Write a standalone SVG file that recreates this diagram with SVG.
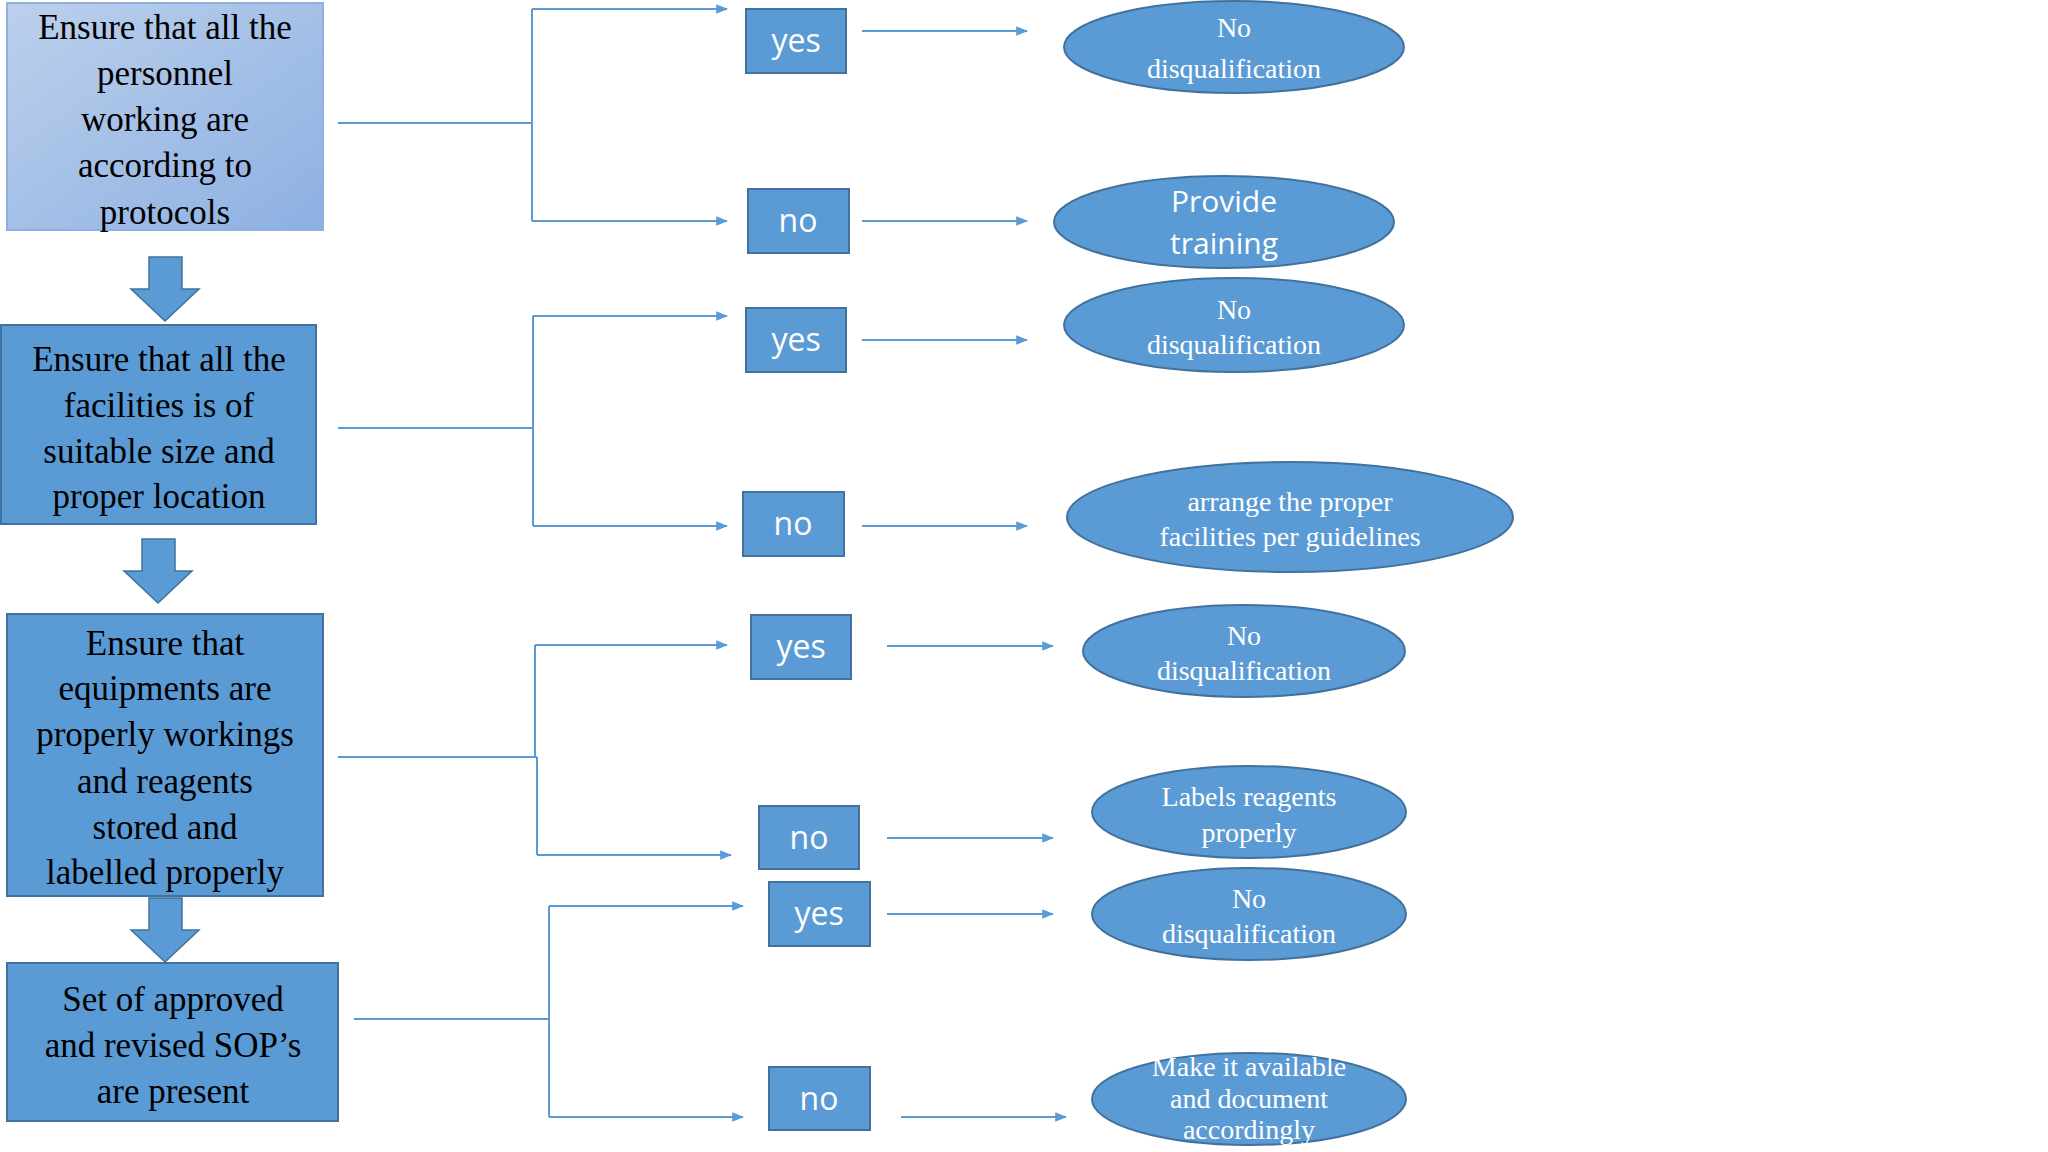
<svg xmlns="http://www.w3.org/2000/svg" width="2048" height="1152" viewBox="0 0 2048 1152">
<defs>
<linearGradient id="g1" x1="0" y1="0" x2="1" y2="1"><stop offset="0" stop-color="#bcd0ec"/><stop offset="1" stop-color="#8db0e2"/></linearGradient>
<marker id="ah" viewBox="0 0 10 10" refX="9" refY="5" markerWidth="6" markerHeight="6" orient="auto"><path d="M0,1 L10,5 L0,9 z" fill="#5b9bd5"/></marker>
<style>
.box{fill:#5b9bd5;stroke:#41719c;stroke-width:2}
.bt{font-family:"Liberation Serif",serif;font-size:35px;fill:#000;text-anchor:middle}
.yn{fill:#5b9bd5;stroke:#41719c;stroke-width:2}
.ynt{font-family:"Open Sans","Noto Sans",sans-serif;font-size:32px;fill:#fff;text-anchor:middle}
.el{fill:#5b9bd5;stroke:#41719c;stroke-width:2}
.et{font-family:"Liberation Serif",serif;font-size:28px;fill:#fff;text-anchor:middle}
.ln{fill:none;stroke:#5b9bd5;stroke-width:2}
.ar{stroke:#5b9bd5;stroke-width:2;marker-end:url(#ah)}
.down{fill:#5b9bd5;stroke:#41719c;stroke-width:1.5}
</style>
</defs>
<rect width="2048" height="1152" fill="#fff"/>
<g id="n1"><rect x="7" y="3" width="316" height="227" fill="url(#g1)" stroke="#8fb0e0" stroke-width="2"/>
<text class="bt" x="165" y="39">Ensure that all the</text><text class="bt" x="165" y="85">personnel</text><text class="bt" x="165" y="131">working are</text><text class="bt" x="165" y="177">according to</text><text class="bt" x="165" y="224">protocols</text></g>
<g id="n2"><rect class="box" x="1" y="325" width="315" height="199"/>
<text class="bt" x="159" y="371">Ensure that all the</text><text class="bt" x="159" y="417">facilities is of</text><text class="bt" x="159" y="463">suitable size and</text><text class="bt" x="159" y="508">proper location</text></g>
<g id="n3"><rect class="box" x="7" y="614" width="316" height="282"/>
<text class="bt" x="165" y="655">Ensure that</text><text class="bt" x="165" y="700">equipments are</text><text class="bt" x="165" y="746">properly workings</text><text class="bt" x="165" y="793">and reagents</text><text class="bt" x="165" y="839">stored and</text><text class="bt" x="165" y="884">labelled properly</text></g>
<g id="n4"><rect class="box" x="7" y="963" width="331" height="158"/>
<text class="bt" x="173" y="1011">Set of approved</text><text class="bt" x="173" y="1057">and revised SOP’s</text><text class="bt" x="173" y="1103">are present</text></g>
<g id="downarrows">
<path class="down" d="M149,257 H182 V289 H199 L165,321 L131,289 H149 Z"/>
<path class="down" d="M142,539 H175 V571 H192 L158,603 L124,571 H142 Z"/>
<path class="down" d="M149,898 H182 V930 H199 L165,962 L131,930 H149 Z"/>
</g>
<g id="y1"><rect class="yn" x="746" y="9" width="100" height="64"/><text class="ynt" x="796" y="52">yes</text></g>
<g id="no1"><rect class="yn" x="748" y="189" width="101" height="64"/><text class="ynt" x="798" y="232">no</text></g>
<g id="y2"><rect class="yn" x="746" y="308" width="100" height="64"/><text class="ynt" x="796" y="351">yes</text></g>
<g id="no2"><rect class="yn" x="743" y="492" width="101" height="64"/><text class="ynt" x="793" y="535">no</text></g>
<g id="y3"><rect class="yn" x="751" y="615" width="100" height="64"/><text class="ynt" x="801" y="658">yes</text></g>
<g id="no3"><rect class="yn" x="759" y="806" width="100" height="63"/><text class="ynt" x="809" y="849">no</text></g>
<g id="y4"><rect class="yn" x="769" y="882" width="101" height="64"/><text class="ynt" x="819" y="925">yes</text></g>
<g id="no4"><rect class="yn" x="769" y="1067" width="101" height="63"/><text class="ynt" x="819" y="1110">no</text></g>
<g id="e1"><ellipse class="el" cx="1234" cy="47" rx="170" ry="46"/><text class="et" x="1234" y="37" font-size="31">No</text><text class="et" x="1234" y="78" font-size="31">disqualification</text></g>
<g id="e2"><ellipse class="el" cx="1224" cy="222" rx="170" ry="46"/><text class="et" x="1224" y="212" style="font-family:'Open Sans','Noto Sans',sans-serif;font-size:30px">Provide</text><text class="et" x="1224" y="254" style="font-family:'Open Sans','Noto Sans',sans-serif;font-size:30px">training</text></g>
<g id="e3"><ellipse class="el" cx="1234" cy="325" rx="170" ry="47"/><text class="et" x="1234" y="319">No</text><text class="et" x="1234" y="354">disqualification</text></g>
<g id="e4"><ellipse class="el" cx="1290" cy="517" rx="223" ry="55"/><text class="et" x="1290" y="511">arrange the proper</text><text class="et" x="1290" y="546">facilities per guidelines</text></g>
<g id="e5"><ellipse class="el" cx="1244" cy="651" rx="161" ry="46"/><text class="et" x="1244" y="645">No</text><text class="et" x="1244" y="680">disqualification</text></g>
<g id="e6"><ellipse class="el" cx="1249" cy="812" rx="157" ry="46"/><text class="et" x="1249" y="806">Labels reagents</text><text class="et" x="1249" y="842">properly</text></g>
<g id="e7"><ellipse class="el" cx="1249" cy="914" rx="157" ry="46"/><text class="et" x="1249" y="908">No</text><text class="et" x="1249" y="943">disqualification</text></g>
<g id="e8"><ellipse class="el" cx="1249" cy="1099" rx="157" ry="46"/><text class="et" x="1249" y="1076" font-size="24">Make it available</text><text class="et" x="1249" y="1108" font-size="24">and document</text><text class="et" x="1249" y="1139" font-size="24">accordingly</text></g>
<g id="connectors">
<path class="ln" d="M338,123 H532 M532,9 V221"/>
<line class="ar" x1="532" y1="9" x2="727" y2="9"/><line class="ar" x1="532" y1="221" x2="727" y2="221"/>
<path class="ln" d="M338,428 H533 M533,316 V526"/>
<line class="ar" x1="533" y1="316" x2="727" y2="316"/><line class="ar" x1="533" y1="526" x2="727" y2="526"/>
<path class="ln" d="M338,757 H537 M535,645 V757 M537,757 V855"/>
<line class="ar" x1="535" y1="645" x2="727" y2="645"/><line class="ar" x1="537" y1="855" x2="731" y2="855"/>
<path class="ln" d="M354,1019 H549 M549,906 V1117"/>
<line class="ar" x1="549" y1="906" x2="743" y2="906"/><line class="ar" x1="549" y1="1117" x2="743" y2="1117"/>
<line class="ar" x1="862" y1="31" x2="1027" y2="31"/>
<line class="ar" x1="862" y1="221" x2="1027" y2="221"/>
<line class="ar" x1="862" y1="340" x2="1027" y2="340"/>
<line class="ar" x1="862" y1="526" x2="1027" y2="526"/>
<line class="ar" x1="887" y1="646" x2="1053" y2="646"/>
<line class="ar" x1="887" y1="838" x2="1053" y2="838"/>
<line class="ar" x1="887" y1="914" x2="1053" y2="914"/>
<line class="ar" x1="901" y1="1117" x2="1066" y2="1117"/>
</g>
</svg>
